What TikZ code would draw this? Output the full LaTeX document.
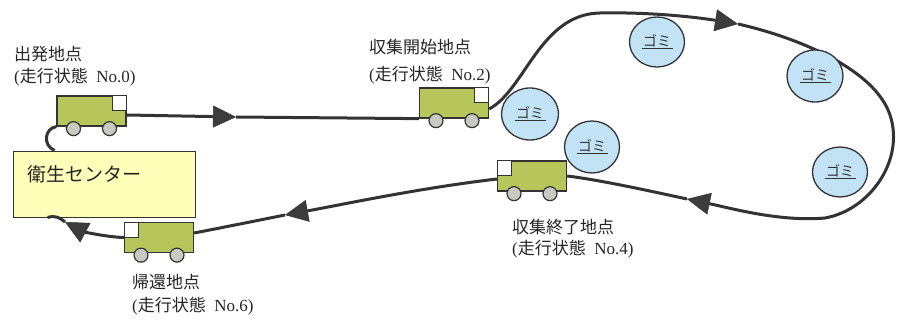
\documentclass[tikz,border=0pt]{standalone}
\usepackage{fontspec}
\setmainfont{Liberation Serif}
\newfontfamily\jp{Noto Sans CJK JP}
\usetikzlibrary{arrows.meta,shapes.geometric}

\definecolor{ink}{HTML}{333333}
\definecolor{tipgray}{HTML}{3C3C3C}
\definecolor{bodygreen}{HTML}{B7C65A}
\definecolor{wheelgray}{HTML}{C9C9C4}
\definecolor{centerfill}{HTML}{FFFFBA}
\definecolor{garbagefill}{HTML}{C2E3F6}

\newcommand\runstate[1]{({\jp 走行状態}\ \ No.#1)}
\newcommand\gomi{\underline{\kern1.5pt ゴミ\kern1.5pt}}

\tikzset{
  route/.style={draw=ink, line width=3pt},
  routearrow/.style={route, -{Triangle[length=23pt,width=22pt,line width=0.5pt,fill=tipgray]}},
  truckbody/.style={draw=ink, line width=1.3pt, fill=bodygreen, rectangle,
    minimum width=69pt, minimum height=30pt, inner sep=0pt},
  truckwindow/.style={draw=ink, line width=1.1pt, fill=white, rectangle,
    minimum width=14pt, minimum height=15pt, inner sep=0pt},
  wheel/.style={draw=ink, line width=1.2pt, fill=wheelgray, circle,
    minimum size=14pt, inner sep=0pt},
  garbage/.style={draw=ink, line width=1.3pt, fill=garbagefill, ellipse,
    inner sep=0pt, font=\jp\fontsize{14pt}{16pt}\selectfont, text=ink},
  place/.style={anchor=west, inner sep=0pt, text=black!85,
    font=\jp\fontsize{17pt}{20pt}\selectfont},
  placeinfo/.style={anchor=west, inner sep=0pt, text=black!85,
    font=\rmfamily\fontsize{17pt}{20pt}\selectfont},
}

\begin{document}
\begin{tikzpicture}[x=1pt, y=-1pt]
  \useasboundingbox (0,0) rectangle (900,320);

  % sanitation centre
  \node[draw=ink, line width=0.9pt, fill=centerfill, rectangle, inner sep=0pt,
        minimum width=182pt, minimum height=66pt] (center) at (104,184) {};
  \node[anchor=west, inner sep=0pt, text=black!85,
        font=\jp\fontsize{19pt}{22pt}\selectfont] (centerlabel) at (27,174) {衛生センター};

  % truck bodies (positions of the four running states)
  \node[truckbody] (t1) at (91.5,111) {};
  \node[truckbody] (t2) at (454,103) {};
  \node[truckbody] (t4) at (532,176) {};
  \node[truckbody] (t6) at (159,237.5) {};

  % arrow tip positions along the route
  \coordinate (a1) at (236,117);
  \coordinate (a2) at (738,24);
  \coordinate (a3) at (687,199);
  \coordinate (a4) at (285,215);
  \coordinate (a5) at (65,222);
  \coordinate (turn) at (890,115);
  \coordinate (bottom) at (825,218);
  \coordinate (crest) at (600,13);

  % route
  \draw[route] (t1.south west) .. controls (45,128) and (42,145) .. ([xshift=42pt]center.north west);
  \draw[routearrow] ([yshift=-4pt]t1.east) -- (a1);
  \draw[route] (a1) -- (t2.south west);
  \draw[routearrow] ([yshift=-6pt]t2.east) .. controls (525,90) and (540,14) .. (crest)
        .. controls (650,12) and (695,17) .. (a2);
  \draw[routearrow] (a2) .. controls (800,38) and (875,70) .. (turn)
        .. controls (905,160) and (870,210) .. (bottom)
        .. controls (780,222) and (730,208) .. (a3);
  \draw[route] (a3) .. controls (650,191) and (600,180) .. (t4.east);
  \draw[routearrow] ([yshift=-3pt]t4.west) .. controls (420,188) and (340,205) .. (a4);
  \draw[route] (a4) .. controls (250,222) and (220,228) .. ([yshift=4.5pt]t6.east);
  \draw[routearrow] (t6.west) .. controls (105,237) and (82,231) .. (a5);
  \draw[route] (a5) .. controls (60,218) and (56,215) .. ([xshift=35pt]center.south west);

  % redraw truck bodies above the route, with windows and wheels
  \foreach \t in {t1,t2,t4,t6} {
    \node[truckbody] at (\t) {};
  }
  \node[truckwindow, anchor=north east] (w1) at (t1.north east) {};
  \node[truckwindow, anchor=north east] (w2) at (t2.north east) {};
  \node[truckwindow, anchor=north west] (w4) at (t4.north west) {};
  \node[truckwindow, anchor=north west] (w6) at (t6.north west) {};
  \foreach \t in {t1,t2,t4,t6} {
    \node[wheel] (\t rear) at ([xshift=-18pt,yshift=-2pt]\t.south) {};
    \node[wheel] (\t front) at ([xshift=18pt,yshift=-2pt]\t.south) {};
  }

  % garbage pick-up points
  \node[garbage, minimum width=57pt, minimum height=52pt] (g1) at (530,114) {\gomi};
  \node[garbage, minimum width=55pt, minimum height=50pt] (g2) at (657,42) {\gomi};
  \node[garbage, minimum width=56pt, minimum height=52pt] (g3) at (815,76) {\gomi};
  \node[garbage, minimum width=55pt, minimum height=50pt] (g4) at (840,172) {\gomi};
  \node[garbage, minimum width=55pt, minimum height=52pt] (g5) at (592,147) {\gomi};

  % labels
  \node[place] (l0) at (14,54) {出発地点};
  \node[placeinfo] (s0) at (14,77) {\runstate{0}};
  \node[place] (l2) at (369,47) {収集開始地点};
  \node[placeinfo] (s2) at (369,75) {\runstate{2}};
  \node[place] (l4) at (512,227) {収集終了地点};
  \node[placeinfo] (s4) at (512,249) {\runstate{4}};
  \node[place] (l6) at (132,282) {帰還地点};
  \node[placeinfo] (s6) at (132,306) {\runstate{6}};
\end{tikzpicture}
\end{document}
